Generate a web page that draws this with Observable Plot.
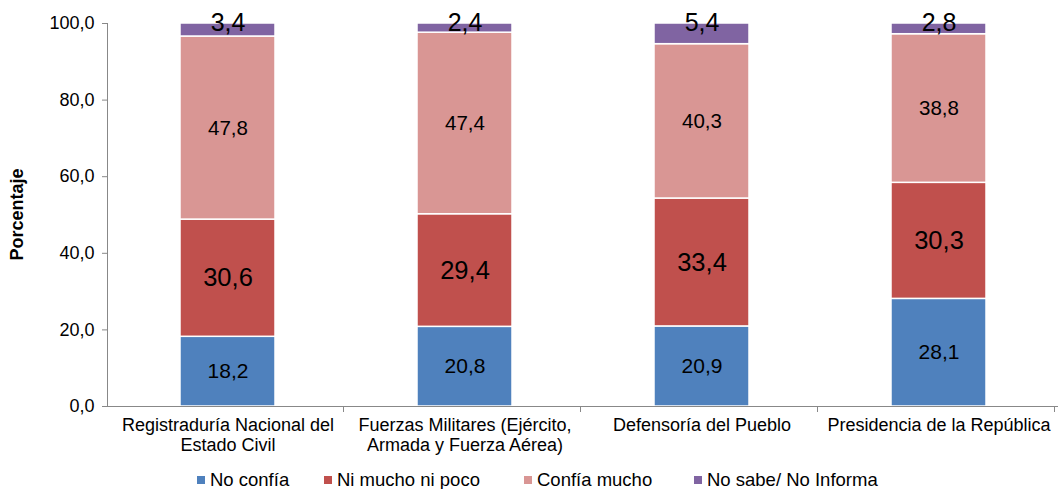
<!DOCTYPE html>
<html>
<head>
<meta charset="utf-8">
<script src="https://cdn.jsdelivr.net/npm/d3@7"></script>
<script src="https://cdn.jsdelivr.net/npm/@observablehq/plot@0.6"></script>
<style>
  body { margin: 0; background: #fff; font-family: "Liberation Sans", Arial, sans-serif; }
  #wrap { position: relative; width: 1063px; height: 489px; overflow: hidden; }
  .leg { position: absolute; top: 469px; font-size: 18.5px; line-height: 22px; color: #000; white-space: nowrap; }
  .leg span.sw { display: inline-block; width: 8px; height: 8px; margin-right: 5px; vertical-align: 2px; }
</style>
</head>
<body>
<div id="wrap"><div id="chart"></div></div>
<script>
const categories = [
  "Registraduría Nacional del\nEstado Civil",
  "Fuerzas Militares (Ejército,\nArmada y Fuerza Aérea)",
  "Defensoría del Pueblo",
  "Presidencia de la República"
];
const series = ["No confía", "Ni mucho ni poco", "Confía mucho", "No sabe/ No Informa"];
const noConfia = [18.2, 20.8, 20.9, 28.1];
const niMucho = [30.6, 29.4, 33.4, 30.3];
const confiaMucho = [47.8, 47.4, 40.3, 38.8];
const noSabe = [3.4, 2.4, 5.4, 2.8];
const yTicks = [0, 20, 40, 60, 80, 100];
const colors = ["#4F81BD", "#C0504D", "#D99694", "#8064A2"];

const valuesBySeries = [noConfia, niMucho, confiaMucho, noSabe];
const data = [];
series.forEach((s, si) => categories.forEach((c, ci) => data.push({cat: c, series: s, value: valuesBySeries[si][ci]})));

const fmt = d => d.toFixed(1).replace(".", ",");
const labelSize = {"No confía": 21, "Ni mucho ni poco": 25.5, "Confía mucho": 20.5};

const W = 1063, H = 462;
const plot = Plot.plot({
  width: W, height: H,
  marginLeft: 107, marginRight: 5, marginTop: 23, marginBottom: 56,
  style: {fontFamily: "Liberation Sans, Arial, sans-serif", background: "#fff"},
  x: {domain: categories, paddingInner: 0.6, paddingOuter: 0.3, label: null},
  y: {domain: [0, 100], label: null},
  color: {domain: series, range: colors},
  marks: [
    Plot.barY(data, Plot.stackY({x: "cat", y: "value", fill: "series", order: series, stroke: "#fff", strokeWidth: 1.5})),
    ...["No confía", "Ni mucho ni poco", "Confía mucho"].map(s =>
      Plot.text(data, Plot.stackY({
        x: "cat", y: "value", z: "series", order: series,
        text: d => d.series === s ? fmt(d.value) : "",
        fontSize: labelSize[s], fill: "#000"
      }))
    ),
    Plot.text(data, Plot.stackY2({
      x: "cat", y: "value", z: "series", order: series,
      text: d => d.series === "No sabe/ No Informa" ? fmt(d.value) : "",
      fontSize: 25, fill: "#000", dy: -1
    })),
    Plot.axisY({ticks: yTicks, tickFormat: fmt, tickSize: 5, tickPadding: 8, fontSize: 18, stroke: "#888", fill: "#000", label: null}),
    Plot.axisX({tickSize: 0, tickPadding: 11, fontSize: 18, lineHeight: 1.08, fill: "#000", label: null}),
    Plot.ruleY([0], {stroke: "#888"})
  ]
});

const svg = d3.select(plot);
const xs = plot.scale("x");
const ys = plot.scale("y");
const y0 = ys.apply(0), y100 = ys.apply(100);
const left = xs.range[0];
svg.append("line").attr("x1", left + 0.5).attr("x2", left + 0.5).attr("y1", y100).attr("y2", y0).attr("stroke", "#888");
const step = xs.step;
for (let i = 1; i <= categories.length; i++) {
  const xb = Math.round(left + step * i) - 0.5;
  svg.append("line").attr("x1", xb).attr("x2", xb).attr("y1", y0).attr("y2", y0 + 6).attr("stroke", "#888");
}
svg.append("text").attr("transform", `translate(23,${(y0 + y100) / 2}) rotate(-90)`)
  .attr("text-anchor", "middle").attr("font-size", 18).attr("font-weight", "bold").text("Porcentaje");

document.getElementById("chart").appendChild(plot);

const legendX = [197, 324, 524, 694];
const wrap = document.getElementById("wrap");
series.forEach((s, i) => {
  const item = document.createElement("div");
  item.className = "leg";
  item.style.left = legendX[i] + "px";
  item.innerHTML = `<span class="sw" style="background:${colors[i]}"></span>${s}`;
  wrap.appendChild(item);
});
</script>
</body>
</html>
